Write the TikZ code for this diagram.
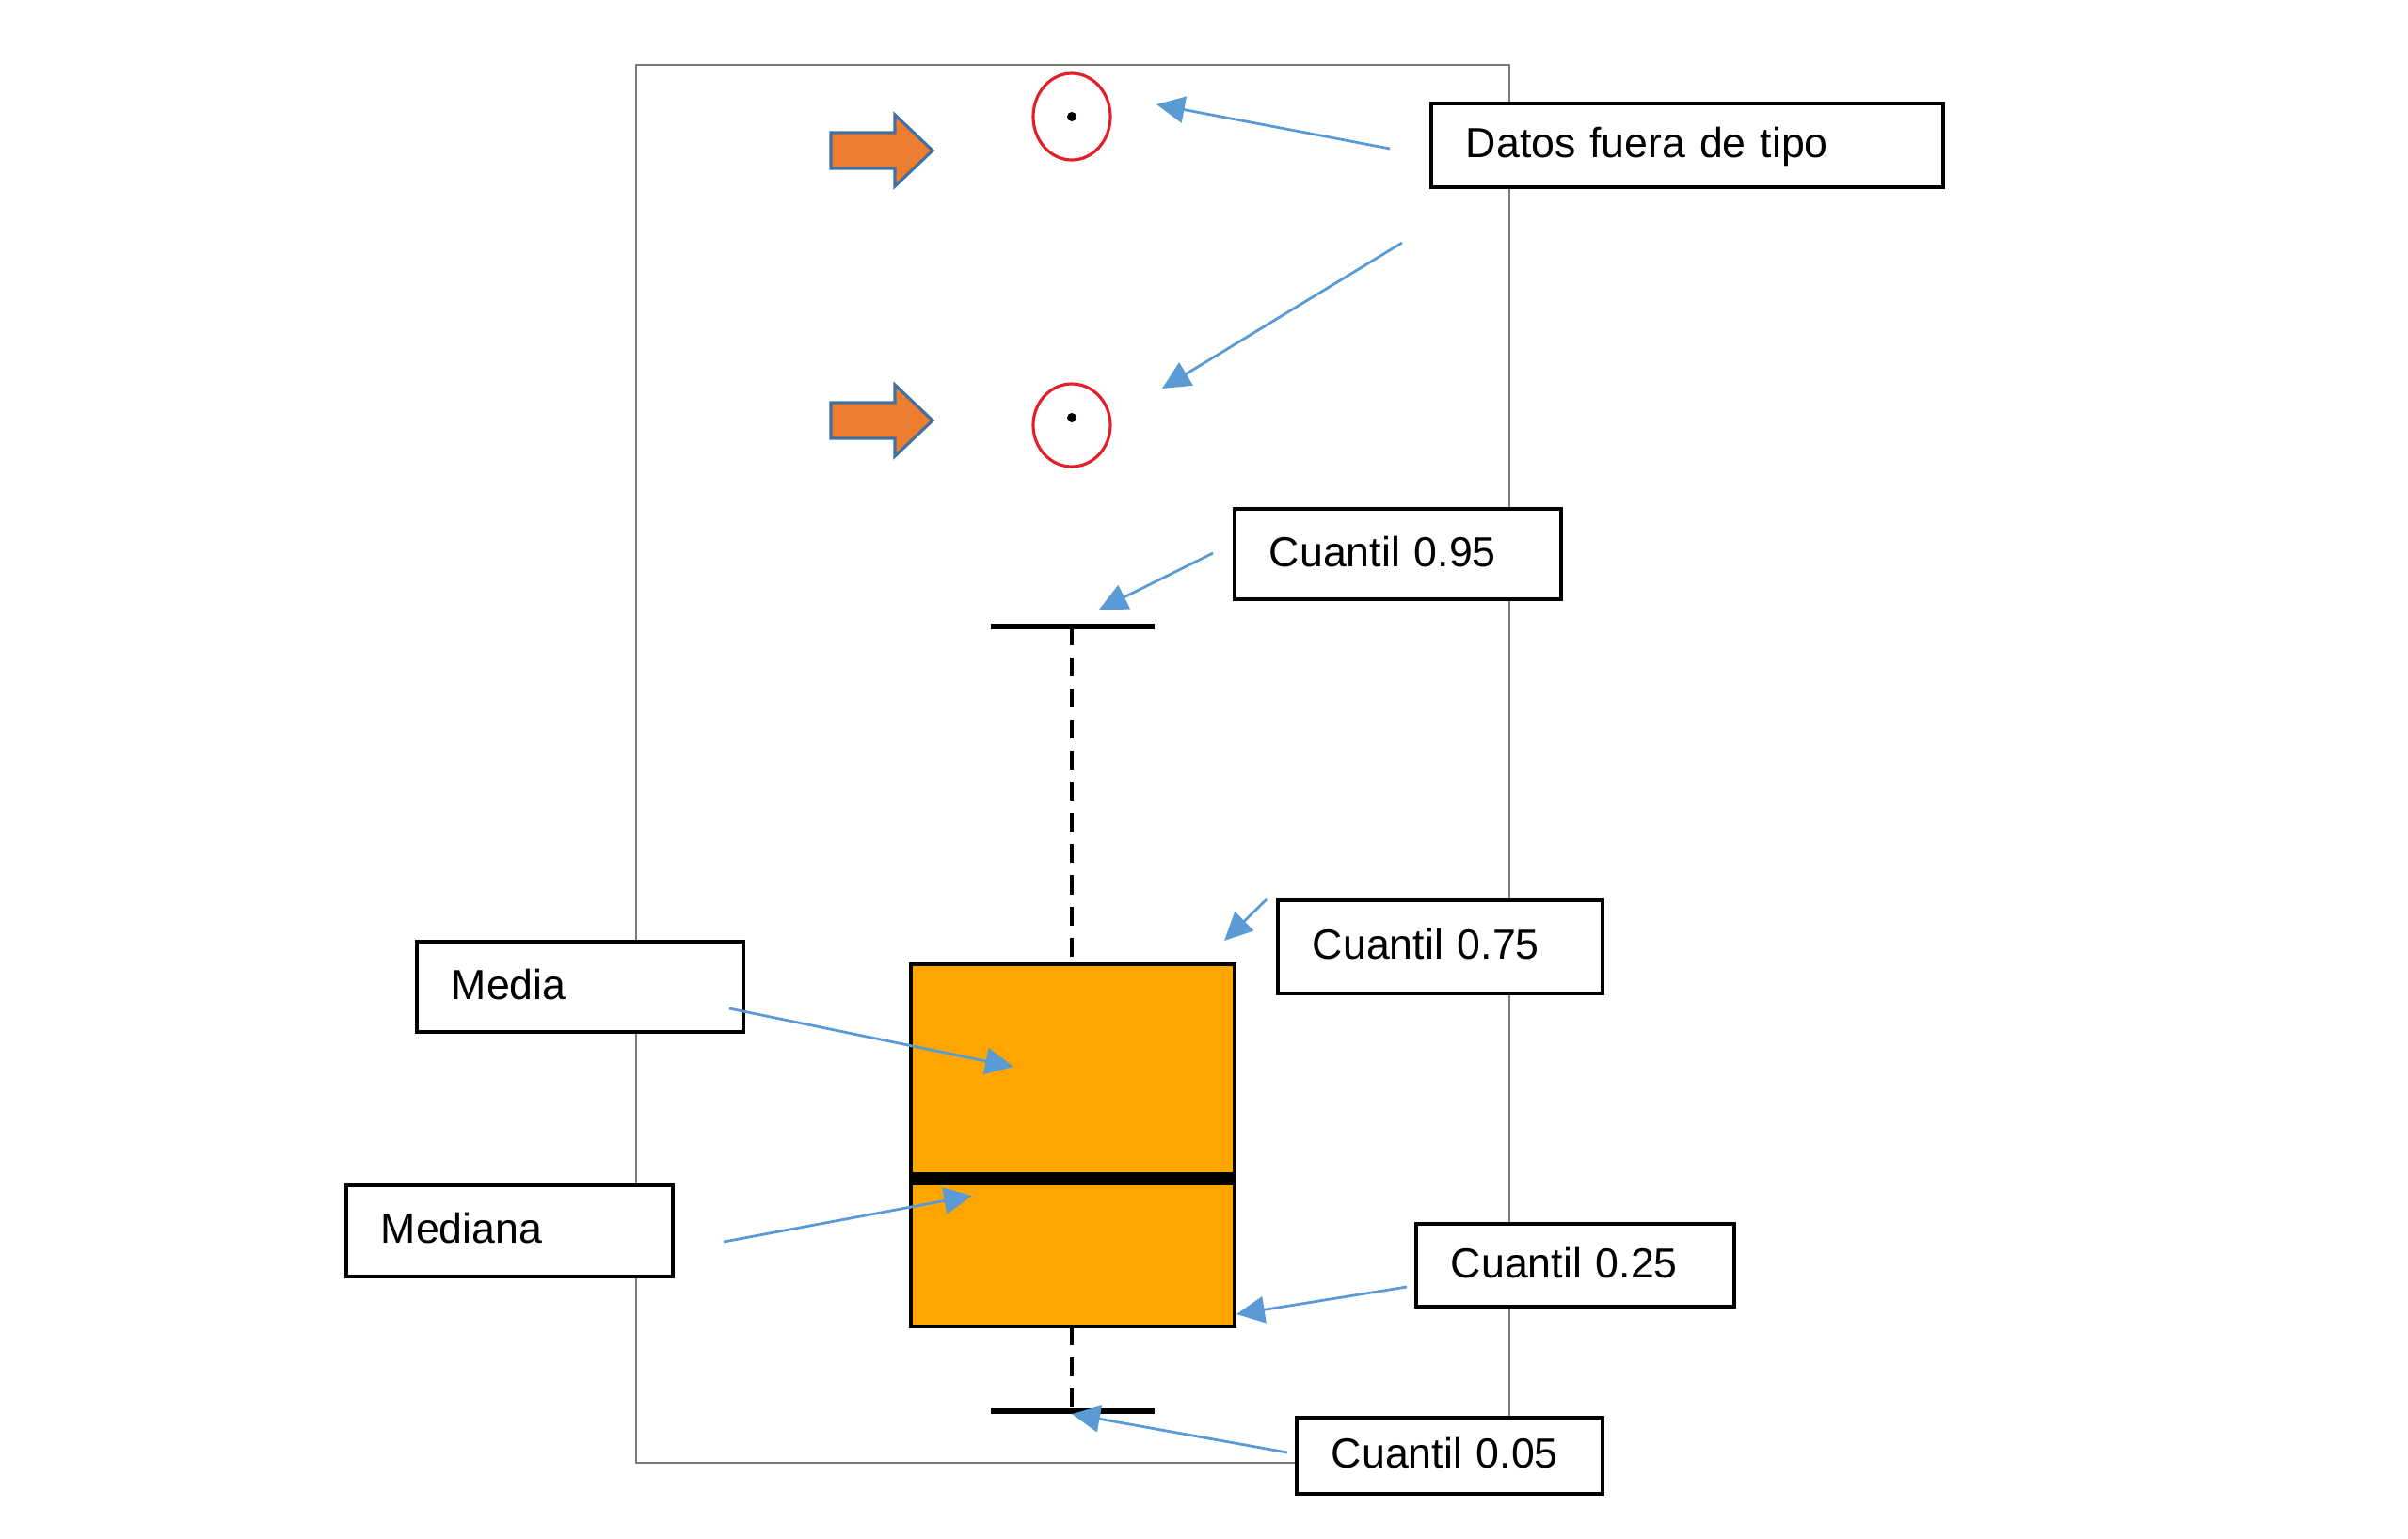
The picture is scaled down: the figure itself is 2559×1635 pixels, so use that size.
\documentclass[tikz,border=0pt]{standalone}
\usepackage{fontspec}
\setmainfont{Liberation Sans}
\usetikzlibrary{arrows.meta}
\definecolor{framegray}{HTML}{7A7A7A}
\definecolor{conblue}{HTML}{5B9BD5}
\definecolor{blockorange}{HTML}{ED7D31}
\definecolor{blockedge}{HTML}{41719C}
\definecolor{boxorange}{HTML}{FFA500}
\definecolor{outred}{HTML}{E3202A}
\tikzset{
  lbl/.style={draw=black, line width=1.1pt, fill=white, anchor=north west,
    inner xsep=0.37cm, inner ysep=0pt, align=left, text height=7.5pt, text depth=0pt,
    font=\fontsize{12.7}{15}\selectfont},
  conn/.style={draw=conblue, line width=0.8pt,
    -{Triangle[length=8.5pt,width=8pt]}},
  blockarrow/.style={fill=blockorange, draw=blockedge, line width=0.9pt, line join=miter},
  outlier/.style={draw=outred, line width=0.9pt},
  whisk/.style={line width=1.6pt},
  whiskdash/.style={line width=1.4pt, dash pattern=on 5.7pt off 3.7pt},
}
\begin{document}
\begin{tikzpicture}[x=0.01cm, y=-0.01cm]
\useasboundingbox (0,0) rectangle (2559,1635);
% frame
\draw[framegray, line width=0.8pt] (676,69) rectangle (1604,1555);

% block arrows
\draw[blockarrow] (883,141) -- (951,141) -- (951,122) -- (991,160) -- (951,198) -- (951,179) -- (883,179) -- cycle;
\draw[blockarrow] (883,428) -- (951,428) -- (951,409) -- (991,447) -- (951,485) -- (951,466) -- (883,466) -- cycle;

% outliers
\draw[outlier] (1139,124) ellipse [x radius=41, y radius=46];
\fill (1139,124) circle [radius=5];
\draw[outlier] (1139,452) ellipse [x radius=41, y radius=44];
\fill (1139,444) circle [radius=5];

% whiskers
\coordinate (wt) at (1139,666);
\coordinate (wb) at (1139,1500);
\draw[whisk] (1053,666) -- (1227,666);
\draw[whisk] (1053,1500) -- (1227,1500);
\draw[whiskdash] (wt) -- (1139,1025);
\draw[whiskdash] (1139,1410) -- (wb);

% box
\draw[fill=boxorange, line width=1.4pt] (968,1025) rectangle (1312,1410);
\draw[line width=4pt] (968,1253) -- (1312,1253);

% labels
\node[lbl, minimum width=5.44cm, minimum height=0.89cm, text width=4.70cm] (datos) at (1519,108) {Datos fuera de tipo};
\node[lbl, minimum width=3.47cm, minimum height=0.96cm, text width=2.73cm] (c95) at (1310,539) {Cuantil 0.95};
\node[lbl, minimum width=3.45cm, minimum height=0.99cm, text width=2.71cm] (c75) at (1356,955) {Cuantil 0.75};
\node[lbl, minimum width=3.47cm, minimum height=0.96cm, text width=2.73cm] (media) at (441,999) {Media};
\node[lbl, minimum width=3.47cm, minimum height=0.97cm, text width=2.73cm] (mediana) at (366,1258) {Mediana};
\node[lbl, minimum width=3.38cm, minimum height=0.88cm, text width=2.64cm] (c25) at (1503,1299) {Cuantil 0.25};
\node[lbl, minimum width=3.25cm, minimum height=0.81cm, text width=2.51cm] (c05) at (1376,1505) {Cuantil 0.05};

% connector coordinates
\coordinate (d1s) at (1477,158);  \coordinate (d1e) at (1229,111);
\coordinate (d2s) at (1490,258);  \coordinate (d2e) at (1235,413);
\coordinate (q95s) at (1289,588); \coordinate (q95e) at (1168,648);
\coordinate (q75s) at (1346,956); \coordinate (q75e) at (1301,1000);
\coordinate (mes) at (775,1072);  \coordinate (mee) at (1077,1134);
\coordinate (mds) at (769,1320);  \coordinate (mde) at (1033,1271);
\coordinate (q25s) at (1495,1368); \coordinate (q25e) at (1314,1397);
\coordinate (q05s) at (1368,1544); \coordinate (q05e) at (1139,1503);

\draw[conn] (d1s) -- (d1e);
\draw[conn] (d2s) -- (d2e);
\draw[conn] (q95s) -- (q95e);
\draw[conn] (q75s) -- (q75e);
\draw[conn] (mes) -- (mee);
\draw[conn] (mds) -- (mde);
\draw[conn] (q25s) -- (q25e);
\draw[conn] (q05s) -- (q05e);
\end{tikzpicture}
\end{document}
